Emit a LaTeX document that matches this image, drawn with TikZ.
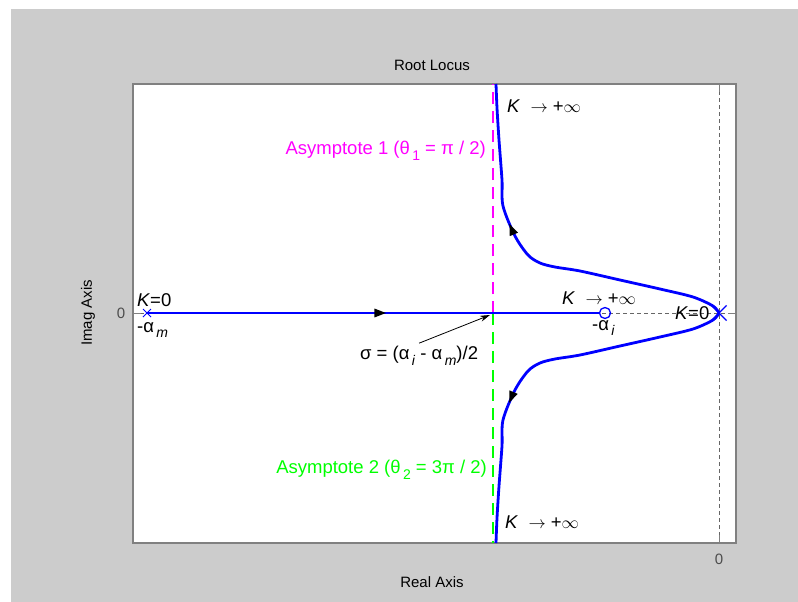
\documentclass[tikz,border=0pt]{standalone}
\usepackage{fontspec}
\setmainfont{Liberation Sans}
\usepackage{tikz}
\usetikzlibrary{positioning,arrows.meta,decorations.markings,shapes.misc}
\usepackage{xcolor}

\definecolor{bggray}{HTML}{CCCCCC}
\definecolor{framegray}{HTML}{808080}
\definecolor{locusblue}{HTML}{0000FF}
\definecolor{asymag}{HTML}{FF00FF}
\definecolor{asygreen}{HTML}{00FF00}

\newcommand{\lowsub}[1]{\raisebox{-0.6ex}{\fontsize{14}{14}\selectfont\,#1}}
\newcommand{\Kinf}{\textit{K}\ \ $\rightarrow$\ +$\infty$}

\begin{document}
\begin{tikzpicture}[x=1pt,y=-1pt,>={Stealth[length=10pt,width=6pt]},
  lbl/.style={font=\fontsize{18.5}{20}\selectfont,inner sep=0pt},
  axlbl/.style={font=\fontsize{15}{17}\selectfont,inner sep=0pt},
  locus/.style={locusblue,line width=2.8pt,line join=round},
  flow/.style={postaction={decorate},decoration={markings,
    mark=at position #1 with {\arrow[black]{Triangle[length=12pt,width=8pt]}}}},
  refline/.style={black!60,line width=0.8pt,dash pattern=on 4pt off 3pt},
  asym/.style={draw=#1,line width=1.3pt,dash pattern=on 12pt off 7pt}]
% figure window and axes box
\fill[white] (0,0) rectangle (798,602);
\fill[bggray] (11,9) rectangle (798,602);
\filldraw[fill=white,draw=framegray,line width=1.5pt] (133,84) rectangle (736,543);
\draw[refline] (719,84) -- (719,543);
\draw[refline] (133,313) -- (736,313);
\draw[framegray,line width=1pt] (719,543) -- (719,535) (719,84) -- (719,92)
  (133,313) -- (141,313) (736,313) -- (728,313);
% asymptotes
\coordinate (cen) at (493,313);
\draw[asym=asymag] (cen) -- (493,84);
\draw[asym=asygreen] (cen) -- (493,543);
% poles and zero
\node[cross out,draw=locusblue,line width=1pt,minimum size=7pt,inner sep=0pt] (pm) at (147,313) {};
\node[cross out,draw=locusblue,line width=1.2pt,minimum size=14pt,inner sep=0pt] (p0) at (719,313) {};
\node[circle,draw=locusblue,line width=1.3pt,minimum size=11pt,inner sep=0pt] (zi) at (605,313) {};
% locus branches
\draw[locus,flow=0.53] (pm.center) -- (zi.west);
\draw[locus,flow=0.63] plot[smooth,tension=0.5] coordinates {(719,313) (713,306) (693,297)
  (660,289) (620,280) (580,271) (555,267) (540,263) (528,255) (515,236) (503,206)
  (502,180) (499,140) (497,108) (496,84)};
\draw[locus,flow=0.63] plot[smooth,tension=0.5] coordinates {(719,313) (713,320) (693,329)
  (660,337) (620,346) (580,355) (555,359) (540,363) (528,371) (515,390) (503,420)
  (502,446) (499,486) (497,518) (496,543)};
% labels
\node[lbl,anchor=west] (k0m) at (137,300) {\textit{K}=0};
\node[lbl,anchor=west] (am) at (137,330) {-α\lowsub{\textit{m}}};
\node[lbl,anchor=west] (kt) at (507,106) {\Kinf};
\node[lbl,anchor=east,text=asymag] (as1) at (486,151) {Asymptote 1 (θ\lowsub{1} = π / 2)};
\node[lbl,anchor=west] (km) at (562,298) {\Kinf};
\node[lbl,anchor=west] (ai) at (592,328) {-α\lowsub{\textit{i}}};
\node[lbl,anchor=west] (k0r) at (675,313) {\textit{K}=0};
\node[lbl,anchor=west] (sig) at (360,356) {σ = (α\lowsub{\textit{i}}\ - α\lowsub{\textit{m}})/2};
\draw[->,line width=0.8pt] ([yshift=3pt]sig.north) -- ([shift={(-3,2)}]cen);
\node[lbl,anchor=east,text=asygreen] (as2) at (487,470) {Asymptote 2 (θ\lowsub{2} = 3π / 2)};
\node[lbl,anchor=west] (kb) at (505,522) {\Kinf};
% axis texts
\node[axlbl] (ttl) at (432,65) {Root Locus};
\node[axlbl] (xl) at (432,582) {Real Axis};
\node[axlbl,rotate=90] (yl) at (88,313) {Imag Axis};
\node[axlbl,text=black!70] (t0y) at (121,313) {0};
\node[axlbl,text=black!70] (t0x) at (719,559) {0};
\end{tikzpicture}
\end{document}
